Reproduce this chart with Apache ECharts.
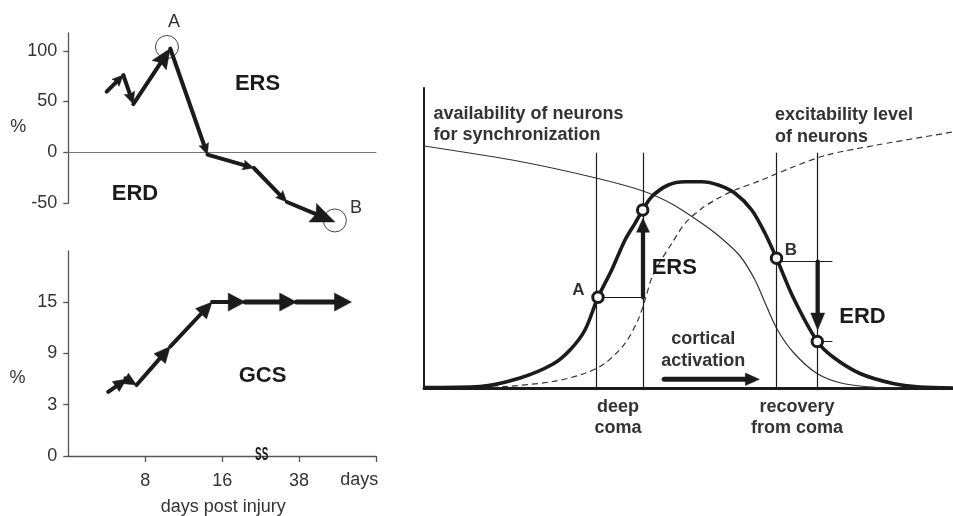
<!DOCTYPE html>
<html>
<head>
<meta charset="utf-8">
<script src="https://cdn.jsdelivr.net/npm/echarts@6/dist/echarts.min.js"></script>
<style>
  html, body { margin: 0; padding: 0; background: #fff; }
  #chart { width: 953px; height: 516px; }
</style>
</head>
<body>
<div id="chart"></div>
<script>
// ---------- Left panels: shared day axis (slot units, 8 per tick) ----------
const dayTickPos = [8, 16, 24];
const dayTickLabels = ['8', '16', '38'];

// ERS / ERD trajectory in % (upper panel)
const ersX = [3.99, 5.72, 6.76, 10.6, 14.47, 19.3, 22.73, 27.72];
const ersPct = [59.7, 76.1, 47.5, 102.2, -2.3, -15.5, -49, -68.7];
const ersTicks = [-50, 0, 50, 100];
// circled states A and B
const stateCircleX = [10.26, 27.72];
const stateCircleY = [103.7, -67.2];

// Glasgow Coma Scale trajectory (lower panel)
const gcsX = [4.15, 6.05, 7.1, 10.6, 14.95, 18.4, 23.75, 29.45];
const gcsScore = [4.5, 6.0, 5.3, 9.8, 15, 15, 15, 15];
const gcsTicks = [0, 3, 9, 15];

// ---------- Right panel: model curves (0..100 on both axes) ----------
const activationX = [0, 10.59, 18.15, 24.39, 27.6, 30.43, 32.89, 35.48, 38.0, 39.89, 41.34, 43.04, 46.18, 49.34, 52.5, 55.63, 58.79, 61.95, 64.46, 66.64, 69.75, 74.35, 77.32, 82.42, 88.66, 93.76, 100];
const activationY = [0.17, 0.5, 3.33, 8.0, 12.67, 19.33, 30.23, 39.33, 49.33, 54.9, 59.33, 63.77, 67.67, 68.77, 68.77, 67.67, 64.9, 59.33, 51.57, 43.23, 30.33, 15.5, 10.33, 4.83, 1.5, 0.33, 0];

const availabilityX = [0, 18.15, 32.51, 41.4, 46.88, 52.17, 55.95, 59.74, 62.57, 64.65, 66.73, 69.75, 74.29, 79.21, 85.63, 89.98];
const availabilityY = [80.67, 75.5, 70.0, 65.67, 61.33, 55.33, 50.33, 44.0, 36.0, 27.67, 19.67, 12.0, 4.83, 1.5, 0.17, 0];

const excitabilityX = [7.18, 14.93, 24.39, 30.43, 34.22, 38.0, 40.45, 41.78, 43.1, 44.61, 46.88, 49.34, 52.55, 55.58, 58.79, 63.52, 69.75, 76.18, 85.63, 100];
const excitabilityY = [0, 0.43, 2.17, 4.9, 8.23, 14.9, 22.67, 29.33, 37.0, 42.0, 48.33, 54.9, 59.9, 63.23, 66.0, 69.1, 73.67, 77.67, 81.0, 85.33];

// points A, ERS, B, ERD on the activation curve
const markX = [32.89, 41.34, 66.64, 74.35];
const markY = [30.23, 59.33, 43.23, 15.5];
// vertical state lines (deep coma pair, recovery pair)
const stateX = [32.55, 41.4, 66.64, 74.42];
const stateTop = 78.4;
// arrow ends
const ersTipY = 56.6;
const erdFromY = 42.1;
const erdTipY = 19.3;
const guideEndX = 77.2;
const corticalX = [45.4, 63.4];
const corticalY = 2.9;

// ---------- styling ----------
const FONT = '"Liberation Sans", Arial, Helvetica, sans-serif';
const INK = '#1b1b1b';
const TXT = '#333333';

// arrowhead styles: w = head width, h = head length, lw = shaft width (px), n = notch depth ratio
const S = (w, h, lw, n) => ({ w: w, h: h, lw: lw, n: n || 0.85 });
const ersStyles = [S(10, 11, 4), S(11, 12, 4), S(17, 20, 4), S(10, 11, 4), S(10, 11, 4), S(10, 11, 4), S(20, 24, 4)];
const gcsStyles = [S(12, 13, 4, 1), S(12, 13, 4, 1), S(15, 16, 4, 1), S(15, 16, 4, 1), S(18, 17, 4, 1), S(18, 17, 5, 1), S(18, 17, 5, 1)];
const rightArrowStyles = [S(13, 14, 4.3, 1), S(14, 17, 4.3, 1), S(12.5, 14, 5, 1)];

// Draws each [x1, y1, x2, y2] item as a shaft with a filled arrowhead at (x2, y2)
function arrowRender(styles) {
  return function (params, api) {
    const a = api.coord([api.value(0), api.value(1)]);
    const b = api.coord([api.value(2), api.value(3)]);
    const st = styles[params.dataIndex];
    const dx = b[0] - a[0], dy = b[1] - a[1];
    const len = Math.sqrt(dx * dx + dy * dy) || 1;
    const ux = dx / len, uy = dy / len;
    const nx = -uy, ny = ux;
    const bx = b[0] - ux * st.h, by = b[1] - uy * st.h;
    const notch = [b[0] - ux * st.h * st.n, b[1] - uy * st.h * st.n];
    const left = [bx + nx * st.w / 2, by + ny * st.w / 2];
    const right = [bx - nx * st.w / 2, by - ny * st.w / 2];
    return {
      type: 'group',
      children: [
        { type: 'line', shape: { x1: a[0], y1: a[1], x2: notch[0], y2: notch[1] },
          style: { stroke: INK, lineWidth: st.lw, lineCap: 'round' } },
        { type: 'polygon', shape: { points: [b, left, notch, right] },
          style: { fill: INK, stroke: INK, lineWidth: 0.5 } }
      ]
    };
  };
}

function segments(xs, ys) {
  const out = [];
  for (let i = 0; i < xs.length - 1; i++) out.push([xs[i], ys[i], xs[i + 1], ys[i + 1]]);
  return out;
}

function gcsToAxis(v) {
  for (let i = 1; i < gcsTicks.length; i++) {
    if (v <= gcsTicks[i]) {
      return (i - 1) + (v - gcsTicks[i - 1]) / (gcsTicks[i] - gcsTicks[i - 1]);
    }
  }
  return gcsTicks.length - 1;
}

const zip = (xs, ys) => xs.map((x, i) => [x, ys[i]]);

const leftAxisLine = { show: true, lineStyle: { color: '#555', width: 1.3 } };
const tickLabel = { fontFamily: FONT, fontSize: 18, color: TXT };

function txt(text, x, y, opt) {
  opt = opt || {};
  return {
    type: 'text',
    x: x, y: y,
    scaleX: opt.scaleX || 1,
    style: {
      text: text,
      x: 0, y: 0,
      fill: opt.color || TXT,
      font: (opt.bold ? 'bold ' : '') + (opt.size || 18) + 'px ' + FONT,
      align: opt.align || 'center',
      verticalAlign: 'middle'
    },
    z: 100
  };
}

const chart = echarts.init(document.getElementById('chart'), null, { renderer: 'canvas' });

chart.setOption({
  animation: false,
  backgroundColor: '#ffffff',
  grid: [
    { left: 68.3, top: 33, width: 307.7, height: 170, outerBoundsMode: 'none' },
    { left: 68.3, top: 250.8, width: 307.7, height: 205.2, outerBoundsMode: 'none' },
    { left: 424, top: 88, width: 529, height: 300, outerBoundsMode: 'none' }
  ],
  xAxis: [
    {
      gridIndex: 0, type: 'value', min: 0, max: 32,
      axisLine: { show: true, onZero: true, lineStyle: { color: '#777', width: 1 } },
      axisTick: { show: false }, axisLabel: { show: false }, splitLine: { show: false }
    },
    {
      gridIndex: 1, type: 'value', min: 0, max: 32,
      axisLine: leftAxisLine,
      axisTick: { show: true, customValues: [8, 16, 24, 32], length: 6, lineStyle: { color: '#555', width: 1.3 } },
      axisLabel: Object.assign({}, tickLabel, {
        customValues: dayTickPos, margin: 16,
        formatter: v => dayTickLabels[dayTickPos.indexOf(v)]
      }),
      splitLine: { show: false }
    },
    {
      gridIndex: 2, type: 'value', min: 0, max: 100,
      axisLine: { show: true, onZero: false, lineStyle: { color: INK, width: 3 } },
      axisTick: { show: false }, axisLabel: { show: false }, splitLine: { show: false }
    }
  ],
  yAxis: [
    {
      gridIndex: 0, type: 'value', min: -50, max: 117.5,
      axisLine: Object.assign({}, leftAxisLine, { onZero: false }),
      axisTick: { show: true, customValues: ersTicks, length: 5, lineStyle: { color: '#555', width: 1.3 } },
      axisLabel: Object.assign({}, tickLabel, { customValues: ersTicks, margin: 11 }),
      splitLine: { show: false }
    },
    {
      gridIndex: 1, type: 'value', min: 0, max: 4,
      axisLine: leftAxisLine,
      axisTick: { show: true, customValues: [0, 1, 2, 3], length: 5, lineStyle: { color: '#555', width: 1.3 } },
      axisLabel: Object.assign({}, tickLabel, {
        customValues: [0, 1, 2, 3], margin: 11,
        formatter: v => String(gcsTicks[v])
      }),
      splitLine: { show: false }
    },
    {
      gridIndex: 2, type: 'value', min: 0, max: 100,
      axisLine: { show: true, onZero: false, lineStyle: { color: INK, width: 2 } },
      axisTick: { show: false }, axisLabel: { show: false }, splitLine: { show: false }
    }
  ],
  series: [
    // ERS/ERD trajectory
    {
      type: 'custom', xAxisIndex: 0, yAxisIndex: 0, silent: true, clip: false, z: 5,
      renderItem: arrowRender(ersStyles),
      encode: { x: [0, 2], y: [1, 3] },
      data: segments(ersX, ersPct)
    },
    {
      type: 'scatter', xAxisIndex: 0, yAxisIndex: 0, silent: true, clip: false, z: 4,
      symbol: 'circle', symbolSize: 23,
      itemStyle: { color: 'rgba(0,0,0,0)', borderColor: '#444', borderWidth: 1, opacity: 1 },
      data: zip(stateCircleX, stateCircleY)
    },
    // GCS trajectory
    {
      type: 'custom', xAxisIndex: 1, yAxisIndex: 1, silent: true, clip: false, z: 5,
      renderItem: arrowRender(gcsStyles),
      encode: { x: [0, 2], y: [1, 3] },
      data: segments(gcsX, gcsScore.map(gcsToAxis))
    },
    // availability of neurons for synchronization
    {
      type: 'line', xAxisIndex: 2, yAxisIndex: 2, silent: true, z: 3,
      showSymbol: false, smooth: 0.3,
      lineStyle: { color: '#333', width: 1.2 },
      data: zip(availabilityX, availabilityY)
    },
    // excitability level of neurons
    {
      type: 'line', xAxisIndex: 2, yAxisIndex: 2, silent: true, z: 3,
      showSymbol: false, smooth: 0.3,
      lineStyle: { color: '#333', width: 1.2, type: [6, 4] },
      data: zip(excitabilityX, excitabilityY)
    },
    // activation / synchronization curve
    {
      type: 'line', xAxisIndex: 2, yAxisIndex: 2, silent: true, z: 4,
      showSymbol: false, smooth: 0.3,
      lineStyle: { color: INK, width: 3.6 },
      data: zip(activationX, activationY)
    },
    // state guide lines
    {
      type: 'lines', coordinateSystem: 'cartesian2d', xAxisIndex: 2, yAxisIndex: 2,
      silent: true, z: 5,
      lineStyle: { color: INK, opacity: 1, width: 1.2 },
      data: [
        ...stateX.map(x => ({ coords: [[x, 0], [x, stateTop]] })),
        { coords: [[markX[0], markY[0]], [stateX[1], markY[0]]] },
        { coords: [[markX[2], erdFromY], [guideEndX, erdFromY]] },
        { coords: [[markX[3], markY[3]], [guideEndX, markY[3]]] }
      ]
    },
    // ERS, ERD and cortical activation arrows
    {
      type: 'custom', xAxisIndex: 2, yAxisIndex: 2, silent: true, clip: false, z: 6,
      renderItem: arrowRender(rightArrowStyles),
      encode: { x: [0, 2], y: [1, 3] },
      data: [
        [stateX[1], markY[0], stateX[1], ersTipY],
        [stateX[3], erdFromY, stateX[3], erdTipY],
        [corticalX[0], corticalY, corticalX[1], corticalY]
      ]
    },
    {
      type: 'scatter', xAxisIndex: 2, yAxisIndex: 2, silent: true, z: 8,
      symbol: 'circle', symbolSize: 10.5,
      itemStyle: { color: '#ffffff', borderColor: INK, borderWidth: 3, opacity: 1 },
      data: zip(markX, markY)
    }
  ],
  graphic: [
    txt('A', 174, 22.5),
    txt('B', 356, 208.3),
    txt('ERS', 257.5, 84, { bold: true, size: 22, color: INK }),
    txt('ERD', 135, 194, { bold: true, size: 22, color: INK }),
    txt('GCS', 262.5, 375.8, { bold: true, size: 22, color: INK }),
    txt('%', 18.3, 127.5),
    txt('%', 17.5, 378.3),
    txt('days', 378.3, 480, { align: 'right' }),
    txt('days post injury', 223.3, 506.7),
    txt('SS', 261.7, 455, { bold: true, size: 18, color: INK, scaleX: 0.55 }),

    txt('availability of neurons', 433.5, 114, { bold: true, align: 'left' }),
    txt('for synchronization', 433.5, 135, { bold: true, align: 'left' }),
    txt('excitability level', 775, 115.5, { bold: true, align: 'left' }),
    txt('of neurons', 775, 137, { bold: true, align: 'left' }),
    txt('A', 578.3, 290.8, { bold: true, size: 17 }),
    txt('B', 790.8, 250, { bold: true, size: 17 }),
    txt('ERS', 674.3, 268.3, { bold: true, size: 22, color: INK }),
    txt('ERD', 862.5, 317.3, { bold: true, size: 22, color: INK }),
    txt('cortical', 703.3, 339, { bold: true }),
    txt('activation', 703.3, 360.7, { bold: true }),
    txt('deep', 618, 407, { bold: true }),
    txt('coma', 618, 428.3, { bold: true }),
    txt('recovery', 797, 407, { bold: true }),
    txt('from coma', 797, 428.3, { bold: true })
  ]
});
</script>
</body>
</html>
